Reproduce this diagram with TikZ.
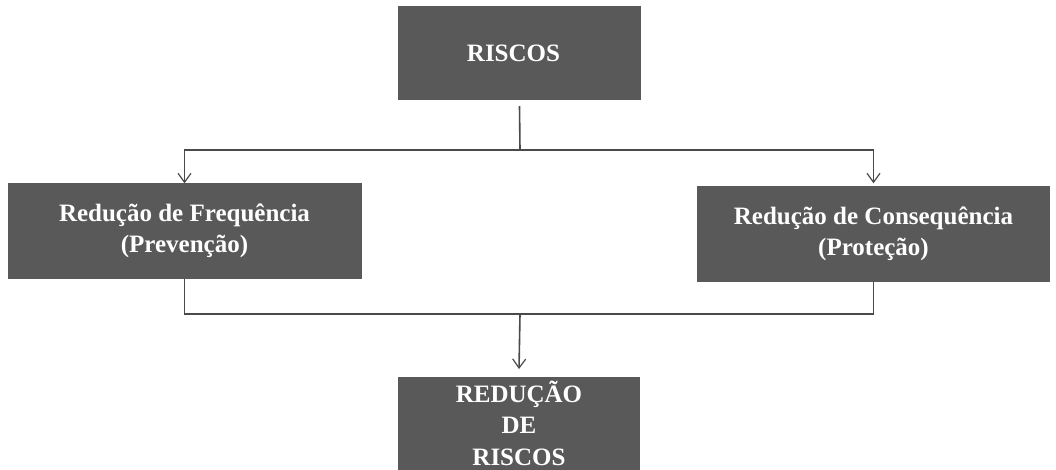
\documentclass[tikz,border=0pt]{standalone}
\usepackage{fontspec}
\setmainfont{Liberation Serif}
\usetikzlibrary{arrows.meta}
\definecolor{boxfill}{HTML}{595959}
\definecolor{linegray}{HTML}{4A4A4A}
\tikzset{
  box/.style={fill=boxfill, draw=none, text=white, font=\fontsize{25}{30.5}\selectfont\bfseries, align=center, inner sep=0pt},
  conn/.style={draw=linegray, line width=1.6pt},
  arr/.style={conn, -{Straight Barb[length=9pt,width=13pt,line width=1.2pt]}}
}
\begin{document}
\begin{tikzpicture}[x=1pt,y=-1pt]
\useasboundingbox (0,0) rectangle (1056,470);
\node[box, minimum width=243pt, minimum height=94pt] (top) at (519.5,53) {RISCOS\hspace{12pt}};
\node[box, minimum width=354pt, minimum height=95pt] (left) at (184.5,231) {Redução de Frequência\\(Prevenção)};
\node[box, minimum width=353pt, minimum height=95pt] (right) at (873.5,234) {Redução de Consequência\\(Proteção)};
\node[box, minimum width=242pt, minimum height=110pt, anchor=north] (bottom) at (519,377) {};
\node[text=white, font=\fontsize{25}{31.5}\selectfont\bfseries, align=center, anchor=base, inner sep=0pt] (btext) at (519,465) {REDUÇÃO\\DE\\RISCOS};
\coordinate (j1) at (520,150);
\coordinate (j2) at (520,314);
\draw[conn] ([yshift=-6pt]top.south) -- (j1);
\draw[arr] (j1) -| (left.north);
\draw[arr] (j1) -| ([yshift=3pt]right.north);
\draw[conn] (left.south) |- (j2);
\draw[conn] (right.south) |- (j2);
\draw[arr] (j2) -- ([yshift=8pt]bottom.north);
\end{tikzpicture}
\end{document}
